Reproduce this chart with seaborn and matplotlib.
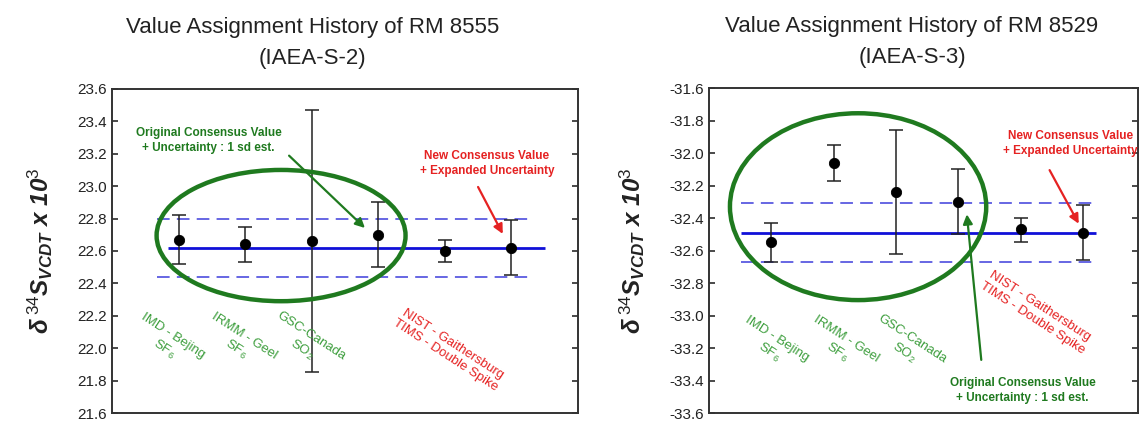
import numpy as np
import seaborn as sns
import matplotlib.pyplot as plt
from matplotlib.patches import Ellipse

sns.set_theme()
sns.set_style("ticks")
plt.rcParams["font.family"] = ["Liberation Sans", "DejaVu Sans"]
plt.rcParams["mathtext.fontset"] = "custom"
plt.rcParams["mathtext.rm"] = "Liberation Sans"
plt.rcParams["mathtext.it"] = "Liberation Sans:italic:bold"
plt.rcParams["mathtext.bf"] = "Liberation Sans:bold"

labs = ["IMD - Bejing\nSF$_6$", "IRMM - Geel\nSF$_6$", "GSC-Canada\nSO$_2$"]
nist_lab = "NIST - Gaithersburg\nTIMS - Double Spike"
pos = [1, 2, 3, 4, 5, 6]

# RM 8555 (IAEA-S-2)
s2_val = [22.67, 22.64, 22.66, 22.70, 22.60, 22.62]
s2_lo = [22.52, 22.53, 21.85, 22.50, 22.53, 22.45]
s2_hi = [22.82, 22.75, 23.47, 22.90, 22.67, 22.79]
s2_mean, s2_u = 22.62, 0.18

# RM 8529 (IAEA-S-3)
s3_val = [-32.55, -32.06, -32.24, -32.30, -32.47, -32.49]
s3_lo = [-32.67, -32.17, -32.62, -32.50, -32.545, -32.66]
s3_hi = [-32.43, -31.95, -31.86, -32.10, -32.40, -32.32]
s3_mean, s3_u = -32.49, 0.18

green = "#1f7a1f"
lgreen = "#3d9e3d"
red = "#e52222"
blue = "#1010d8"
dblue = "#5a5ae0"

fig = plt.figure(figsize=(11.44, 4.22), dpi=100)
ax1 = fig.add_axes([0.0979, 0.0213, 0.4073, 0.768])
ax2 = fig.add_axes([0.6198, 0.0213, 0.375, 0.770])


def panel(ax, val, lo, hi, mean, u, ylim, xmax, line_x, dash_x):
    ax.hlines(mean, *line_x, color=blue, lw=2, zorder=2)
    ax.hlines([mean + u, mean - u], *dash_x, color=dblue, lw=1.3,
              linestyles=(0, (7, 4)), zorder=2)
    err = [np.array(val) - np.array(lo), np.array(hi) - np.array(val)]
    ax.errorbar(pos, val, yerr=err, fmt="none", ecolor="#222222",
                elinewidth=1.1, capsize=5, capthick=1.1, zorder=3)
    sns.scatterplot(x=pos, y=val, ax=ax, color="black", s=55,
                    edgecolor="black", zorder=4, legend=False)
    ax.set_xlim(0, xmax)
    ax.set_ylim(*ylim)
    ax.set_yticks(np.arange(ylim[0], ylim[1] + 0.01, 0.2))
    ax.yaxis.set_major_formatter(plt.FormatStrFormatter("%.1f"))
    ax.set_xticks([])
    ax.tick_params(axis="y", direction="in", length=4, right=True,
                   labelsize=11, colors="#333333", labelcolor="#222222")
    for s in ax.spines.values():
        s.set_visible(True)
        s.set_linewidth(1.4)
        s.set_color("#333333")
    ax.set_ylabel(r"$\delta^{\,34}S_{VCDT}$ x 10$^{3}$", fontsize=17.5,
                  fontweight="bold", style="italic", color="#222222",
                  labelpad=16)


panel(ax1, s2_val, s2_lo, s2_hi, s2_mean, s2_u, (21.6, 23.6), 7,
      (0.84, 6.51), (0.67, 6.32))
panel(ax2, s3_val, s3_lo, s3_hi, s3_mean, s3_u, (-33.6, -31.6), 6.88,
      (0.52, 6.21), (0.52, 6.21))

# left panel decorations
ax1.add_patch(Ellipse((2.54, 22.695), 3.74, 0.81, fill=False, ec=green,
                      lw=3.2, zorder=5))
ax1.text(1.45, 23.28, "Original Consensus Value\n+ Uncertainty : 1 sd est.",
         color=green, fontsize=8.5, fontweight="bold", ha="center",
         va="center", linespacing=1.3)
ax1.annotate("", xy=(3.83, 22.73), xytext=(2.63, 23.20),
             arrowprops=dict(arrowstyle="-|>", color=green, lw=1.6,
                             mutation_scale=14), zorder=6)
ax1.text(5.63, 23.14, "New Consensus Value\n+ Expanded Uncertainty",
         color=red, fontsize=8.5, fontweight="bold", ha="center",
         va="center", linespacing=1.3)
ax1.annotate("", xy=(5.89, 22.69), xytext=(5.48, 23.01),
             arrowprops=dict(arrowstyle="-|>", color=red, lw=1.6,
                             mutation_scale=14), zorder=6)
for x, t in zip([0.84, 1.92, 2.92], labs):
    ax1.text(x, 22.03, t, color=lgreen, fontsize=9.5, rotation=-33,
             ha="center", va="center", rotation_mode="anchor")
ax1.text(5.07, 21.99, nist_lab, color=red, fontsize=9.5, rotation=-33,
         ha="center", va="center", rotation_mode="anchor")

# right panel decorations
ax2.add_patch(Ellipse((2.39, -32.33), 4.11, 1.15, fill=False, ec=green,
                      lw=3.2, zorder=5))
ax2.text(5.03, -33.46, "Original Consensus Value\n+ Uncertainty : 1 sd est.",
         color=green, fontsize=8.5, fontweight="bold", ha="center",
         va="center", linespacing=1.3)
ax2.annotate("", xy=(4.13, -32.36), xytext=(4.37, -33.29),
             arrowprops=dict(arrowstyle="-|>", color=green, lw=1.6,
                             mutation_scale=14), zorder=6)
ax2.text(5.79, -31.94, "New Consensus Value\n+ Expanded Uncertainty",
         color=red, fontsize=8.5, fontweight="bold", ha="center",
         va="center", linespacing=1.3)
ax2.annotate("", xy=(5.95, -32.45), xytext=(5.44, -32.09),
             arrowprops=dict(arrowstyle="-|>", color=red, lw=1.6,
                             mutation_scale=14), zorder=6)
for x, t in zip([1.02, 2.12, 3.19], labs):
    ax2.text(x, -33.19, t, color=lgreen, fontsize=9.5, rotation=-33,
             ha="center", va="center", rotation_mode="anchor")
ax2.text(5.25, -32.98, nist_lab, color=red, fontsize=9.5, rotation=-33,
         ha="center", va="center", rotation_mode="anchor")

ax1.text(0.43, 1.142, "Value Assignment History of RM 8555\n(IAEA-S-2)",
         transform=ax1.transAxes, ha="center", va="center", fontsize=16,
         color="#222222", linespacing=1.62)
ax2.text(0.473, 1.142, "Value Assignment History of RM 8529\n(IAEA-S-3)",
         transform=ax2.transAxes, ha="center", va="center", fontsize=16,
         color="#222222", linespacing=1.62)

fig.savefig("out.png", dpi=100)
